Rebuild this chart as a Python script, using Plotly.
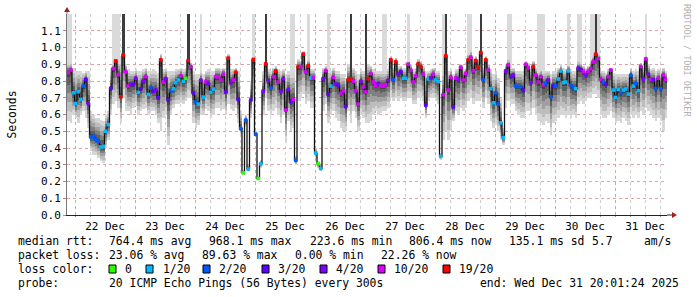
import plotly.graph_objects as go
import pandas as pd

# ---------------- data ----------------
start_time = "2025-12-21 20:48"
n_hours = 240

median_rtt = [
    0.85, 0.866, 0.73, 0.666, 0.736, 0.69, 0.77, 0.81, 0.666, 0.466,
    0.47, 0.45, 0.44, 0.406, 0.41, 0.50, 0.54, 0.756, 0.874, 0.92,
    0.838, 0.706, 0.956, 0.854, 0.77, 0.78, 0.78, 0.816, 0.732, 0.754,
    0.80, 0.826, 0.72, 0.758, 0.738, 0.746, 0.70, 0.926, 0.794, 0.814,
    0.686, 0.742, 0.754, 0.79, 0.806, 0.83, 0.798, 0.816, 0.922, 0.886,
    0.73, 0.674, 0.662, 0.804, 0.704, 0.794, 0.786, 0.732, 0.752, 0.826,
    0.826, 0.806, 0.84, 0.734, 0.936, 0.79, 0.806, 0.852, 0.69, 0.516,
    0.252, 0.566, 0.274, 0.686, 0.926, 0.482, 0.218, 0.306, 0.74, 0.902,
    0.802, 0.758, 0.826, 0.86, 0.794, 0.738, 0.814, 0.626, 0.75, 0.676,
    0.69, 0.326, 0.886, 0.886, 0.96, 0.854, 0.89, 0.818, 0.818, 0.37,
    0.306, 0.278, 0.814, 0.862, 0.72, 0.77, 0.822, 0.782, 0.776, 0.726,
    0.742, 0.648, 0.806, 0.812, 0.798, 0.742, 0.662, 0.798, 0.766, 0.734,
    0.814, 0.844, 0.794, 0.774, 0.784, 0.77, 0.77, 0.778, 0.804, 0.926,
    0.806, 0.914, 0.84, 0.856, 0.816, 0.816, 0.90, 0.864, 0.794, 0.83,
    0.902, 0.886, 0.84, 0.656, 0.812, 0.818, 0.84, 0.806, 0.796, 0.35,
    0.718, 0.95, 0.746, 0.822, 0.646, 0.818, 0.81, 0.882, 0.806, 0.846,
    0.926, 0.942, 0.862, 0.922, 0.884, 0.97, 0.806, 0.926, 0.866, 0.754,
    0.67, 0.73, 0.662, 0.55, 0.462, 0.86, 0.896, 0.826, 0.836, 0.77,
    0.766, 0.766, 0.744, 0.90, 0.878, 0.79, 0.886, 0.836, 0.794, 0.826,
    0.778, 0.786, 0.806, 0.706, 0.774, 0.77, 0.812, 0.86, 0.79, 0.794,
    0.86, 0.774, 0.758, 0.754, 0.876, 0.87, 0.856, 0.836, 0.856, 0.874,
    0.914, 0.96, 0.934, 0.81, 0.792, 0.78, 0.826, 0.866, 0.746, 0.702,
    0.75, 0.73, 0.746, 0.752, 0.722, 0.834, 0.77, 0.786, 0.742, 0.886,
    0.812, 0.932, 0.84, 0.81, 0.806, 0.754, 0.816, 0.754, 0.836, 0.81,
]

loss_pings = [
    10, 10, 1, 1, 1, 1, 2, 3, 4, 2,
    2, 2, 2, 1, 1, 1, 1, 3, 10, 19,
    10, 19, 19, 10, 10, 4, 3, 4, 1, 3,
    4, 10, 1, 2, 3, 4, 3, 19, 10, 4,
    3, 2, 1, 1, 1, 10, 1, 0, 19, 10,
    3, 2, 1, 4, 1, 10, 4, 1, 1, 10,
    10, 10, 10, 3, 19, 4, 10, 19, 3, 2,
    0, 2, 1, 3, 19, 2, 0, 1, 4, 19,
    4, 2, 10, 19, 10, 4, 4, 10, 4, 3,
    10, 2, 19, 10, 19, 10, 19, 1, 10, 1,
    0, 1, 4, 10, 3, 1, 10, 4, 3, 10,
    10, 3, 19, 19, 10, 10, 10, 4, 10, 10,
    19, 10, 10, 10, 4, 10, 10, 10, 4, 19,
    2, 19, 4, 3, 1, 1, 10, 10, 10, 10,
    19, 19, 10, 3, 1, 4, 10, 1, 1, 1,
    10, 19, 10, 10, 3, 10, 4, 10, 10, 10,
    19, 10, 10, 19, 19, 19, 2, 19, 10, 1,
    1, 2, 2, 1, 1, 4, 10, 3, 4, 2,
    2, 2, 3, 10, 10, 4, 19, 10, 10, 10,
    10, 2, 4, 2, 3, 2, 1, 1, 1, 1,
    1, 2, 2, 1, 4, 3, 10, 4, 10, 10,
    10, 19, 10, 10, 2, 3, 10, 10, 1, 1,
    1, 2, 1, 1, 1, 2, 1, 2, 1, 10,
    4, 10, 4, 10, 3, 2, 10, 2, 10, 10,
]

# smoke envelope (hundredths of a second)
smoke_hi = [
    91, 91, 88, 86, 86, 86, 85, 86, 86, 62,
    60, 58, 58, 57, 56, 60, 62, 88, 90, 93,
    92, 95, 98, 90, 87, 86, 86, 87, 86, 86,
    87, 88, 86, 86, 87, 86, 85, 96, 87, 88,
    86, 86, 86, 87, 87, 88, 87, 88, 94, 91,
    86, 84, 84, 86, 84, 86, 87, 86, 86, 88,
    88, 87, 88, 88, 96, 87, 87, 88, 86, 62,
    27, 60, 30, 80, 95, 50, 23, 33, 86, 92,
    87, 86, 88, 89, 87, 86, 87, 84, 86, 85,
    85, 35, 93, 92, 98, 90, 93, 87, 87, 40,
    32, 30, 88, 89, 88, 86, 88, 86, 86, 84,
    84, 82, 90, 90, 88, 86, 84, 87, 86, 88,
    90, 89, 87, 86, 86, 86, 86, 86, 87, 95,
    88, 94, 89, 89, 88, 88, 92, 90, 87, 88,
    93, 92, 89, 86, 86, 87, 88, 86, 86, 37,
    86, 98, 86, 87, 84, 87, 87, 90, 87, 88,
    96, 98, 93, 95, 93, 100, 88, 95, 90, 87,
    84, 86, 82, 70, 52, 90, 93, 88, 88, 86,
    86, 86, 86, 92, 91, 87, 92, 88, 86, 87,
    86, 86, 86, 84, 86, 86, 88, 90, 88, 87,
    90, 87, 86, 86, 92, 91, 89, 88, 89, 92,
    95, 98, 96, 86, 86, 85, 87, 88, 85, 84,
    84, 84, 84, 84, 84, 88, 86, 87, 86, 91,
    88, 95, 90, 87, 88, 86, 87, 86, 88, 86,
]
smoke_lo = [
    56, 55, 60, 58, 55, 60, 62, 58, 52, 38,
    36, 36, 34, 32, 31, 40, 45, 60, 66, 68,
    64, 55, 70, 62, 62, 60, 64, 65, 60, 62,
    63, 64, 60, 62, 62, 60, 55, 50, 58, 60,
    42, 60, 64, 66, 66, 67, 66, 68, 70, 70,
    55, 52, 54, 60, 60, 63, 62, 58, 60, 64,
    64, 62, 63, 60, 66, 63, 62, 64, 55, 48,
    24, 53, 26, 58, 70, 47, 21, 28, 60, 70,
    62, 60, 62, 64, 60, 55, 60, 43, 56, 50,
    52, 30, 68, 70, 72, 66, 68, 64, 64, 34,
    28, 26, 62, 66, 55, 60, 62, 58, 56, 52,
    50, 50, 62, 55, 62, 58, 50, 60, 58, 55,
    55, 56, 60, 62, 60, 61, 62, 62, 64, 70,
    68, 70, 68, 70, 68, 68, 70, 70, 66, 66,
    70, 70, 68, 58, 68, 70, 70, 68, 66, 33,
    45, 50, 45, 50, 56, 62, 60, 64, 62, 64,
    68, 70, 66, 68, 68, 70, 64, 70, 66, 56,
    52, 54, 50, 45, 42, 64, 68, 66, 66, 62,
    60, 58, 58, 62, 62, 60, 64, 60, 56, 55,
    54, 56, 55, 48, 55, 56, 58, 60, 60, 58,
    60, 58, 60, 58, 66, 68, 66, 68, 70, 70,
    72, 72, 70, 60, 58, 58, 60, 62, 58, 55,
    56, 55, 58, 56, 54, 60, 58, 60, 58, 62,
    60, 64, 62, 60, 58, 56, 58, 56, 50, 58,
]

# hours where single pings went off the top of the scale
spike_light = [0, 1, 18, 19, 20, 53, 74, 89, 90, 96, 104, 126, 127, 136, 150,
               160, 161, 176, 177, 188, 189, 190, 200, 204, 205, 209, 210, 212, 231]
spike_dark = [22, 48, 79, 113, 119, 151, 165, 211]

loss_levels = [0, 1, 2, 3, 4, 10, 19]
loss_labels = ["0", "1/20", "2/20", "3/20", "4/20", "10/20", "19/20"]
loss_colors = ["#26ff00", "#00b8ff", "#0059ff", "#5e00ff", "#7e00ff", "#dd00ff", "#ff0000"]

y_ticks = [0.0, 0.1, 0.2, 0.3, 0.4, 0.5, 0.6, 0.7, 0.8, 0.9, 1.0, 1.1]
y_max = 1.2

stats_line1 = [("median rtt:", 16), ("764.4 ms avg", 107), ("968.1 ms max", 207),
               ("223.6 ms min", 308), ("806.4 ms now", 407), ("135.1 ms sd", 507),
               ("5.7", 590), ("am/s", 642)]
stats_line2 = [("packet loss:", 16), ("23.06 % avg", 107), ("89.63 % max", 200),
               ("0.00 % min", 293), ("22.26 % now", 379)]
legend_x = [(109, 123), (146, 161), (203, 217), (262, 276), (320, 334), (378, 392), (443, 457)]
probe_text = "20 ICMP Echo Pings (56 Bytes) every 300s"
end_text = "end: Wed Dec 31 20:01:24 2025"

# ---------------- geometry helpers ----------------
W, H = 697, 297
L, R, T, B = 67, 667, 14, 215
def px(x):
    return (x - L) / (R - L)
def py(y):
    return (B - y) / (B - T)

t0 = pd.Timestamp(start_time)
hours = [t0 + pd.Timedelta(hours=i + 0.5) for i in range(n_hours)]
hour_ms = 3600 * 1000

fig = go.Figure()
FONT = "DejaVu Sans Mono"
FS = 11.4

# light off-scale spikes
sl_x = [hours[i] for i in spike_light]
sl_b = [smoke_hi[i] / 100 for i in spike_light]
fig.add_trace(go.Bar(x=sl_x, base=sl_b, y=[y_max + 0.1 - b for b in sl_b],
                     width=hour_ms, marker=dict(color="#dadada", line=dict(width=0)),
                     hoverinfo="skip", showlegend=False))

# smoke layers
fracs = [1.0, 0.8, 0.6, 0.42, 0.25, 0.1]
shades = ["#d6d6d6", "#bdbdbd", "#a0a0a0", "#808080", "#606060", "#444444"]
for f, c in zip(fracs, shades):
    lo = [m - f * (m - l / 100) for m, l in zip(median_rtt, smoke_lo)]
    hi = [m + f * (h / 100 - m) for m, h in zip(median_rtt, smoke_hi)]
    fig.add_trace(go.Bar(x=hours, base=lo, y=[h - l for h, l in zip(hi, lo)],
                         width=hour_ms, marker=dict(color=c, line=dict(width=0)),
                         hoverinfo="skip", showlegend=False))

# dark off-scale spikes
sd_x = [hours[i] for i in spike_dark]
sd_b = [median_rtt[i] for i in spike_dark]
fig.add_trace(go.Bar(x=sd_x, base=sd_b, y=[y_max + 0.1 - b for b in sd_b],
                     width=hour_ms, marker=dict(color="#3c3c3c", line=dict(width=0)),
                     hoverinfo="skip", showlegend=False))

# median line
fig.add_trace(go.Scatter(x=hours, y=median_rtt, mode="lines",
                         line=dict(color="#111111", width=1.3, shape="hvh"),
                         hoverinfo="skip", showlegend=False))
cmap = dict(zip(loss_levels, loss_colors))
fig.add_trace(go.Scatter(x=hours, y=median_rtt, mode="markers",
                         marker=dict(symbol="square", size=3.6,
                                     color=[cmap[v] for v in loss_pings], line=dict(width=0)),
                         hoverinfo="skip", showlegend=False))

t_end = t0 + pd.Timedelta(hours=n_hours)
fig.update_layout(
    width=W, height=H, margin=dict(l=L, r=W - R, t=T, b=H - B),
    paper_bgcolor="white", plot_bgcolor="white", barmode="overlay",
    bargap=0, showlegend=False,
    xaxis=dict(range=[t0, t_end], type="date", tick0="2025-12-22", dtick=86400000,
               tickformat="%d %b", ticklabelmode="period",
               showgrid=True, gridcolor="#e4a0a0", griddash="dot", gridwidth=1,
               minor=dict(dtick=6 * hour_ms, showgrid=True, gridcolor="#cfcfcf",
                          griddash="dot", gridwidth=1, ticks="outside", ticklen=1,
                          tickcolor="#999"),
               ticks="outside", ticklen=1, tickcolor="#c08080",
               showline=True, linecolor="#222", linewidth=1, zeroline=False,
               tickfont=dict(family=FONT, size=11, color="#000"), layer="above traces"),
    yaxis=dict(range=[0, y_max], tickvals=y_ticks, tickformat=".1f",
               showgrid=True, gridcolor="#e4a0a0", griddash="dot", gridwidth=1,
               ticks="outside", ticklen=3, tickcolor="#c08080",
               showline=True, linecolor="#777", linewidth=1, zeroline=False,
               tickfont=dict(family=FONT, size=11, color="#000"), layer="above traces"),
)

# axis extensions and arrows
shapes = [
    dict(type="line", xref="paper", yref="paper", x0=1, x1=px(672), y0=0, y1=0,
         line=dict(color="#222", width=1)),
    dict(type="path", xref="paper", yref="paper",
         path=f"M {px(672)} {py(212)} L {px(677)} {py(215)} L {px(672)} {py(218)} Z",
         fillcolor="#a02020", line=dict(width=0)),
    dict(type="line", xref="paper", yref="paper", x0=0, x1=0, y0=1, y1=py(10),
         line=dict(color="#777", width=1)),
    dict(type="path", xref="paper", yref="paper",
         path=f"M {px(64)} {py(12)} L {px(67)} {py(7)} L {px(70)} {py(12)} Z",
         fillcolor="#a02020", line=dict(width=0)),
]
for (bx, _), col in zip(legend_x, loss_colors):
    shapes.append(dict(type="rect", xref="paper", yref="paper",
                       x0=px(bx), x1=px(bx + 7), y0=py(273), y1=py(265),
                       fillcolor=col, line=dict(color="#000", width=1)))
fig.update_layout(shapes=shapes)

ann = []
def text(s, x, y, size=FS, color="#000", **kw):
    ann.append(dict(text=s, x=px(x), y=py(y), xref="paper", yref="paper",
                    xanchor="left", yanchor="middle", showarrow=False,
                    font=dict(family=FONT, size=size, color=color), **kw))

for s, x in stats_line1:
    text(s, x, 241)
for s, x in stats_line2:
    text(s, x, 255)
text("loss color:", 16, 269)
for (_, tx), lab in zip(legend_x, loss_labels):
    text(lab, tx, 269)
text("probe:", 16, 283)
text(probe_text, 107, 283)
text(end_text, 478, 283)

ann.append(dict(text="Seconds", x=px(11), y=0.5, xref="paper", yref="paper",
                xanchor="center", yanchor="middle", showarrow=False, textangle=-90,
                font=dict(family=FONT, size=FS, color="#000")))
ann.append(dict(text="RRDTOOL / TOBI OETIKER", x=px(687), y=py(60), xref="paper",
                yref="paper", xanchor="center", yanchor="middle", showarrow=False,
                textangle=90, font=dict(family=FONT, size=8.5, color="#b0b0b0")))
fig.update_layout(annotations=ann)

fig.write_html("out.html")
